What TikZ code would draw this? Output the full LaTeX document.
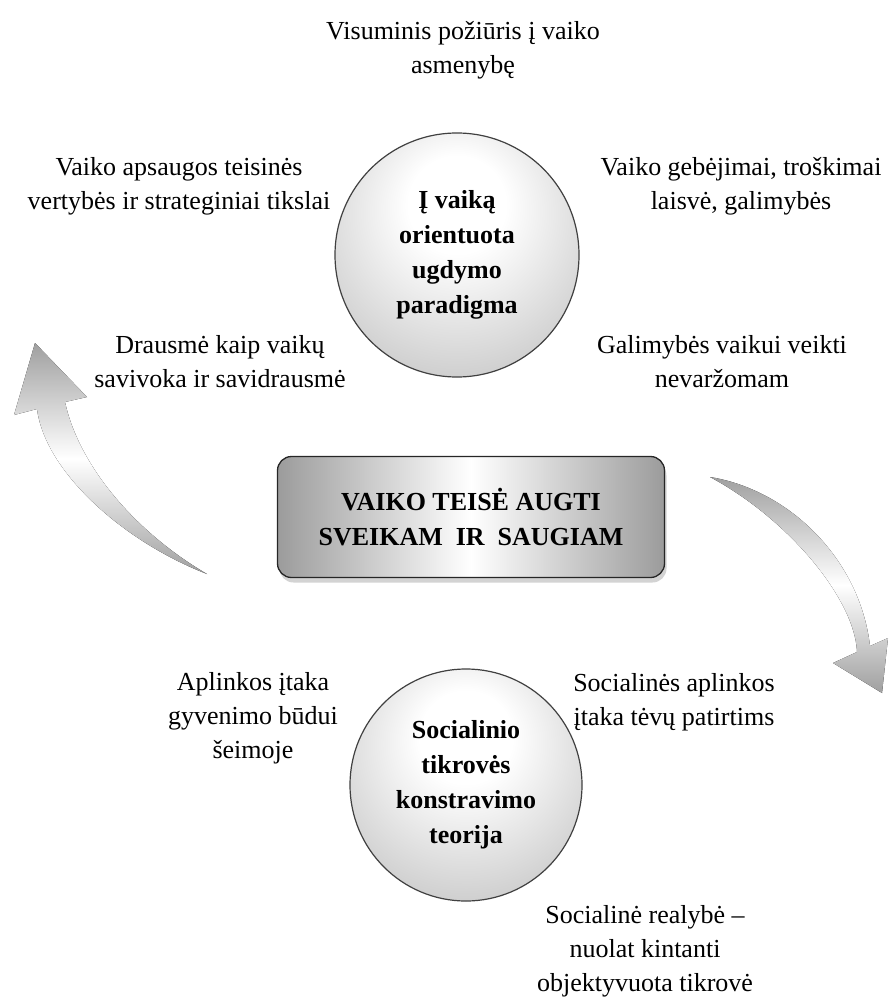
\documentclass[tikz,border=0pt]{standalone}
\usepackage{fontspec}
\setmainfont{Liberation Serif}
\usetikzlibrary{shadows}

\pgfdeclareradialshading{orb}{\pgfpoint{0bp}{12bp}}{color(0bp)=(white); color(10bp)=(white); color(48bp)=(gray!66); color(70bp)=(gray!78)}

\begin{document}
\begin{tikzpicture}[x=1pt, y=-1pt,
    txt/.style={align=center, font=\fontsize{26}{34}\selectfont},
    idea/.style={circle, draw=black!75, line width=1.2pt, inner sep=0pt, align=center, font=\fontsize{26}{35}\selectfont\bfseries, shading=orb},
    core/.style={draw=black!85, line width=1.3pt, rounded corners=14pt, minimum width=387pt, minimum height=121pt, align=center, font=\fontsize{26}{35}\selectfont\bfseries, left color=gray!78, right color=gray!78, middle color=white, drop shadow={opacity=0.35, shadow xshift=2pt, shadow yshift=-5pt}},
    turn/.style={top color=gray!75, bottom color=gray!75, middle color=white}]
    \useasboundingbox (0,0) rectangle (890,1000);

    \fill[turn] (207,574) .. controls (120,540) and (45,470) .. (37,409) -- (14,415) -- (35,343) -- (87,397) -- (65,402) .. controls (80,470) and (140,535) .. (207,574) -- cycle;
    \fill[turn] (710,477) .. controls (790,490) and (860,560) .. (870,646) -- (888,638) -- (882,693) -- (833,663) -- (857,652) .. controls (855,600) and (790,520) .. (710,477) -- cycle;

    \node[idea, minimum size=244pt] (paradigma) at (457,255) {Į vaiką\\orientuota\\ugdymo\\paradigma};
    \node[idea, minimum size=232pt] (teorija) at (466,785) {Socialinio\\tikrovės\\konstravimo\\teorija};
    \node[core] (teise) at (471,517) {VAIKO TEISĖ AUGTI\\SVEIKAM\ \ IR\ \ SAUGIAM};

    \node[txt] (visum) at (463,50) {Visuminis požiūris į vaiko\\asmenybę};
    \node[txt] (apsauga) at (179,186) {Vaiko apsaugos teisinės\\vertybės ir strateginiai tikslai};
    \node[txt] (gebejimai) at (741,186) {Vaiko gebėjimai, troškimai\\laisvė, galimybės};
    \node[txt] (drausme) at (220,362) {Drausmė kaip vaikų\\savivoka ir savidrausmė};
    \node[txt] (galimybes) at (722,362) {Galimybės vaikui veikti\\nevaržomam};
    \node[txt] (aplinka) at (253,718) {Aplinkos įtaka\\gyvenimo būdui\\šeimoje};
    \node[txt] (socaplinka) at (674,702) {Socialinės aplinkos\\įtaka tėvų patirtims};
    \node[txt] (realybe) at (645,951) {Socialinė realybė –\\nuolat kintanti\\objektyvuota tikrovė};
\end{tikzpicture}
\end{document}
